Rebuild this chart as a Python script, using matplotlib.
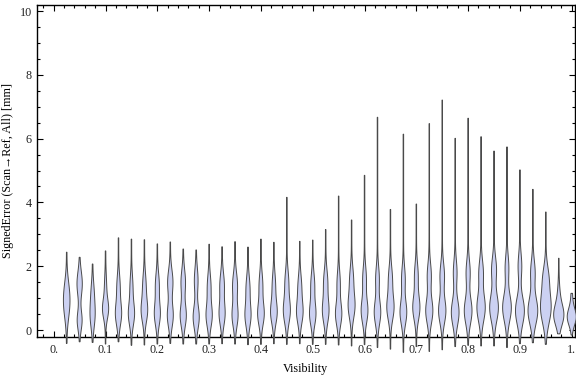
import numpy as np
import matplotlib
matplotlib.use("Agg")
import matplotlib.pyplot as plt
from matplotlib.ticker import MultipleLocator, FixedLocator

# ---- data (one violin per visibility bin) ----
positions = [0.025 * k for k in range(1, 41)]
y_max = [2.44, 2.28, 2.07, 2.48, 2.89, 2.85, 2.83, 2.70, 2.76, 2.54,
         2.51, 2.69, 2.61, 2.77, 2.60, 2.85, 2.75, 4.16, 2.78, 2.82,
         3.15, 4.20, 3.45, 4.85, 6.67, 3.78, 6.14, 3.95, 6.47, 7.21,
         6.01, 6.64, 6.06, 5.61, 5.74, 5.02, 4.41, 3.70, 2.25, 1.15]
y_min = [-0.42, -0.37, -0.39, -0.44, -0.37, -0.48, -0.47, -0.44, -0.42, -0.44,
         -0.44, -0.44, -0.43, -0.44, -0.46, -0.45, -0.43, -0.45, -0.43, -0.45,
         -0.45, -0.47, -0.50, -0.46, -0.55, -0.60, -0.70, -0.52, -0.67, -0.62,
         -0.52, -0.48, -0.50, -0.50, -0.55, -0.43, -0.40, -0.45, -0.12, -0.16]
# lower bulge: centre, half-width (px), spread
lo_mode = [0.80, 0.30, 0.45, 0.65, 0.50, 0.50, 0.60, 0.50, 0.45, 0.45,
           0.40, 0.45, 0.50, 0.45, 0.45, 0.50, 0.55, 0.60, 0.55, 0.50,
           0.60, 0.50, 0.75, 0.60, 0.55, 0.70, 0.55, 0.70, 0.60, 0.60,
           0.55, 0.60, 0.70, 0.70, 0.70, 0.60, 0.60, 0.70, 0.45, 0.40]
lo_width = [2.6, 2.2, 2.1, 2.7, 2.8, 2.8, 2.9, 2.7, 2.7, 2.8,
            2.8, 2.8, 2.7, 2.7, 2.7, 3.0, 3.0, 3.2, 2.9, 2.9,
            3.0, 2.9, 3.1, 3.1, 3.0, 3.3, 3.1, 3.3, 3.3, 3.4,
            3.6, 3.6, 3.9, 4.1, 4.1, 4.2, 4.6, 5.0, 4.5, 4.0]
lo_sd = [0.45, 0.30, 0.38, 0.30, 0.35, 0.35, 0.35, 0.35, 0.35, 0.35,
         0.35, 0.35, 0.35, 0.35, 0.35, 0.35, 0.35, 0.38, 0.35, 0.35,
         0.37, 0.35, 0.38, 0.37, 0.37, 0.38, 0.37, 0.38, 0.38, 0.38,
         0.40, 0.40, 0.42, 0.42, 0.42, 0.42, 0.42, 0.48, 0.32, 0.26]
# upper bulge: centre, half-width (px), spread
hi_mode = [1.35, 1.45, 1.15, 1.35, 1.35, 1.35, 1.40, 1.40, 1.50, 1.50,
           1.55, 1.35, 1.40, 1.40, 1.30, 1.40, 1.40, 1.50, 1.35, 1.40,
           1.50, 1.45, 1.60, 1.60, 1.60, 1.60, 1.60, 1.70, 1.70, 1.70,
           1.80, 1.80, 1.80, 1.90, 1.95, 2.00, 1.80, 1.65, 1.00, 0.90]
hi_width = [1.0, 2.4, 1.2, 0.8, 1.4, 1.2, 1.4, 1.7, 2.4, 2.0,
            1.6, 1.6, 2.0, 2.2, 1.7, 1.6, 1.4, 1.6, 1.6, 1.7,
            1.8, 1.4, 1.6, 1.6, 1.6, 1.7, 1.6, 1.6, 1.8, 2.0,
            1.6, 1.8, 2.0, 2.2, 1.6, 1.6, 2.0, 2.4, 1.0, 0.6]
hi_sd = [0.38] * 40

x_ticks = [0.0, 0.1, 0.2, 0.3, 0.4, 0.5, 0.6, 0.7, 0.8, 0.9, 1.0]
x_ticklabels = ["0.", "0.1", "0.2", "0.3", "0.4", "0.5", "0.6", "0.7", "0.8", "0.9", "1."]
y_ticks = [0, 2, 4, 6, 8, 10]

FILL = "#ccd1f2"
EDGE = "#4a4a4a"

plt.rcParams["font.family"] = ["Liberation Serif", "DejaVu Serif"]

fig = plt.figure(figsize=(5.76, 3.77), dpi=100)
ax = fig.add_axes([36.5 / 576, 1 - 337 / 377, (575 - 36.5) / 576, (337 - 5) / 377])

PX = 1.0 / 518.0  # data units per pixel along x
TAIL = 0.25       # half-width of thin tails (px)

for i, x0 in enumerate(positions):
    y = np.linspace(y_min[i], y_max[i], 400)
    hw = (lo_width[i] * np.exp(-0.5 * ((y - lo_mode[i]) / lo_sd[i]) ** 2)
          + hi_width[i] * np.exp(-0.5 * ((y - hi_mode[i]) / hi_sd[i]) ** 2)
          + TAIL) * PX
    xs = np.concatenate([x0 - hw, (x0 + hw)[::-1]])
    ys = np.concatenate([y, y[::-1]])
    ax.fill(xs, ys, facecolor=FILL, edgecolor=EDGE, linewidth=0.7,
            clip_on=False, zorder=3)

ax.set_xlim(-0.0333, 1.0063)
ax.set_ylim(-0.219, 10.19)

ax.xaxis.set_major_locator(FixedLocator(x_ticks))
ax.set_xticklabels(x_ticklabels)
ax.xaxis.set_minor_locator(MultipleLocator(0.02))
ax.yaxis.set_major_locator(FixedLocator(y_ticks))
ax.yaxis.set_minor_locator(MultipleLocator(0.5))

ax.tick_params(which="both", direction="in", top=True, right=True,
               color="black", width=0.8, labelsize=8.7, labelcolor="#222222")
ax.tick_params(which="major", length=4.5)
ax.tick_params(which="minor", length=2.5)
ax.tick_params(axis="x", pad=5)
for s in ax.spines.values():
    s.set_linewidth(1.0)
    s.set_color("black")

ax.set_xlabel("Visibility", fontsize=8.7, labelpad=5)
ax.set_ylabel("SignedError (Scan\u2192Ref, All) [mm]", fontsize=8.7, labelpad=4)

fig.savefig("out.png", dpi=100)
